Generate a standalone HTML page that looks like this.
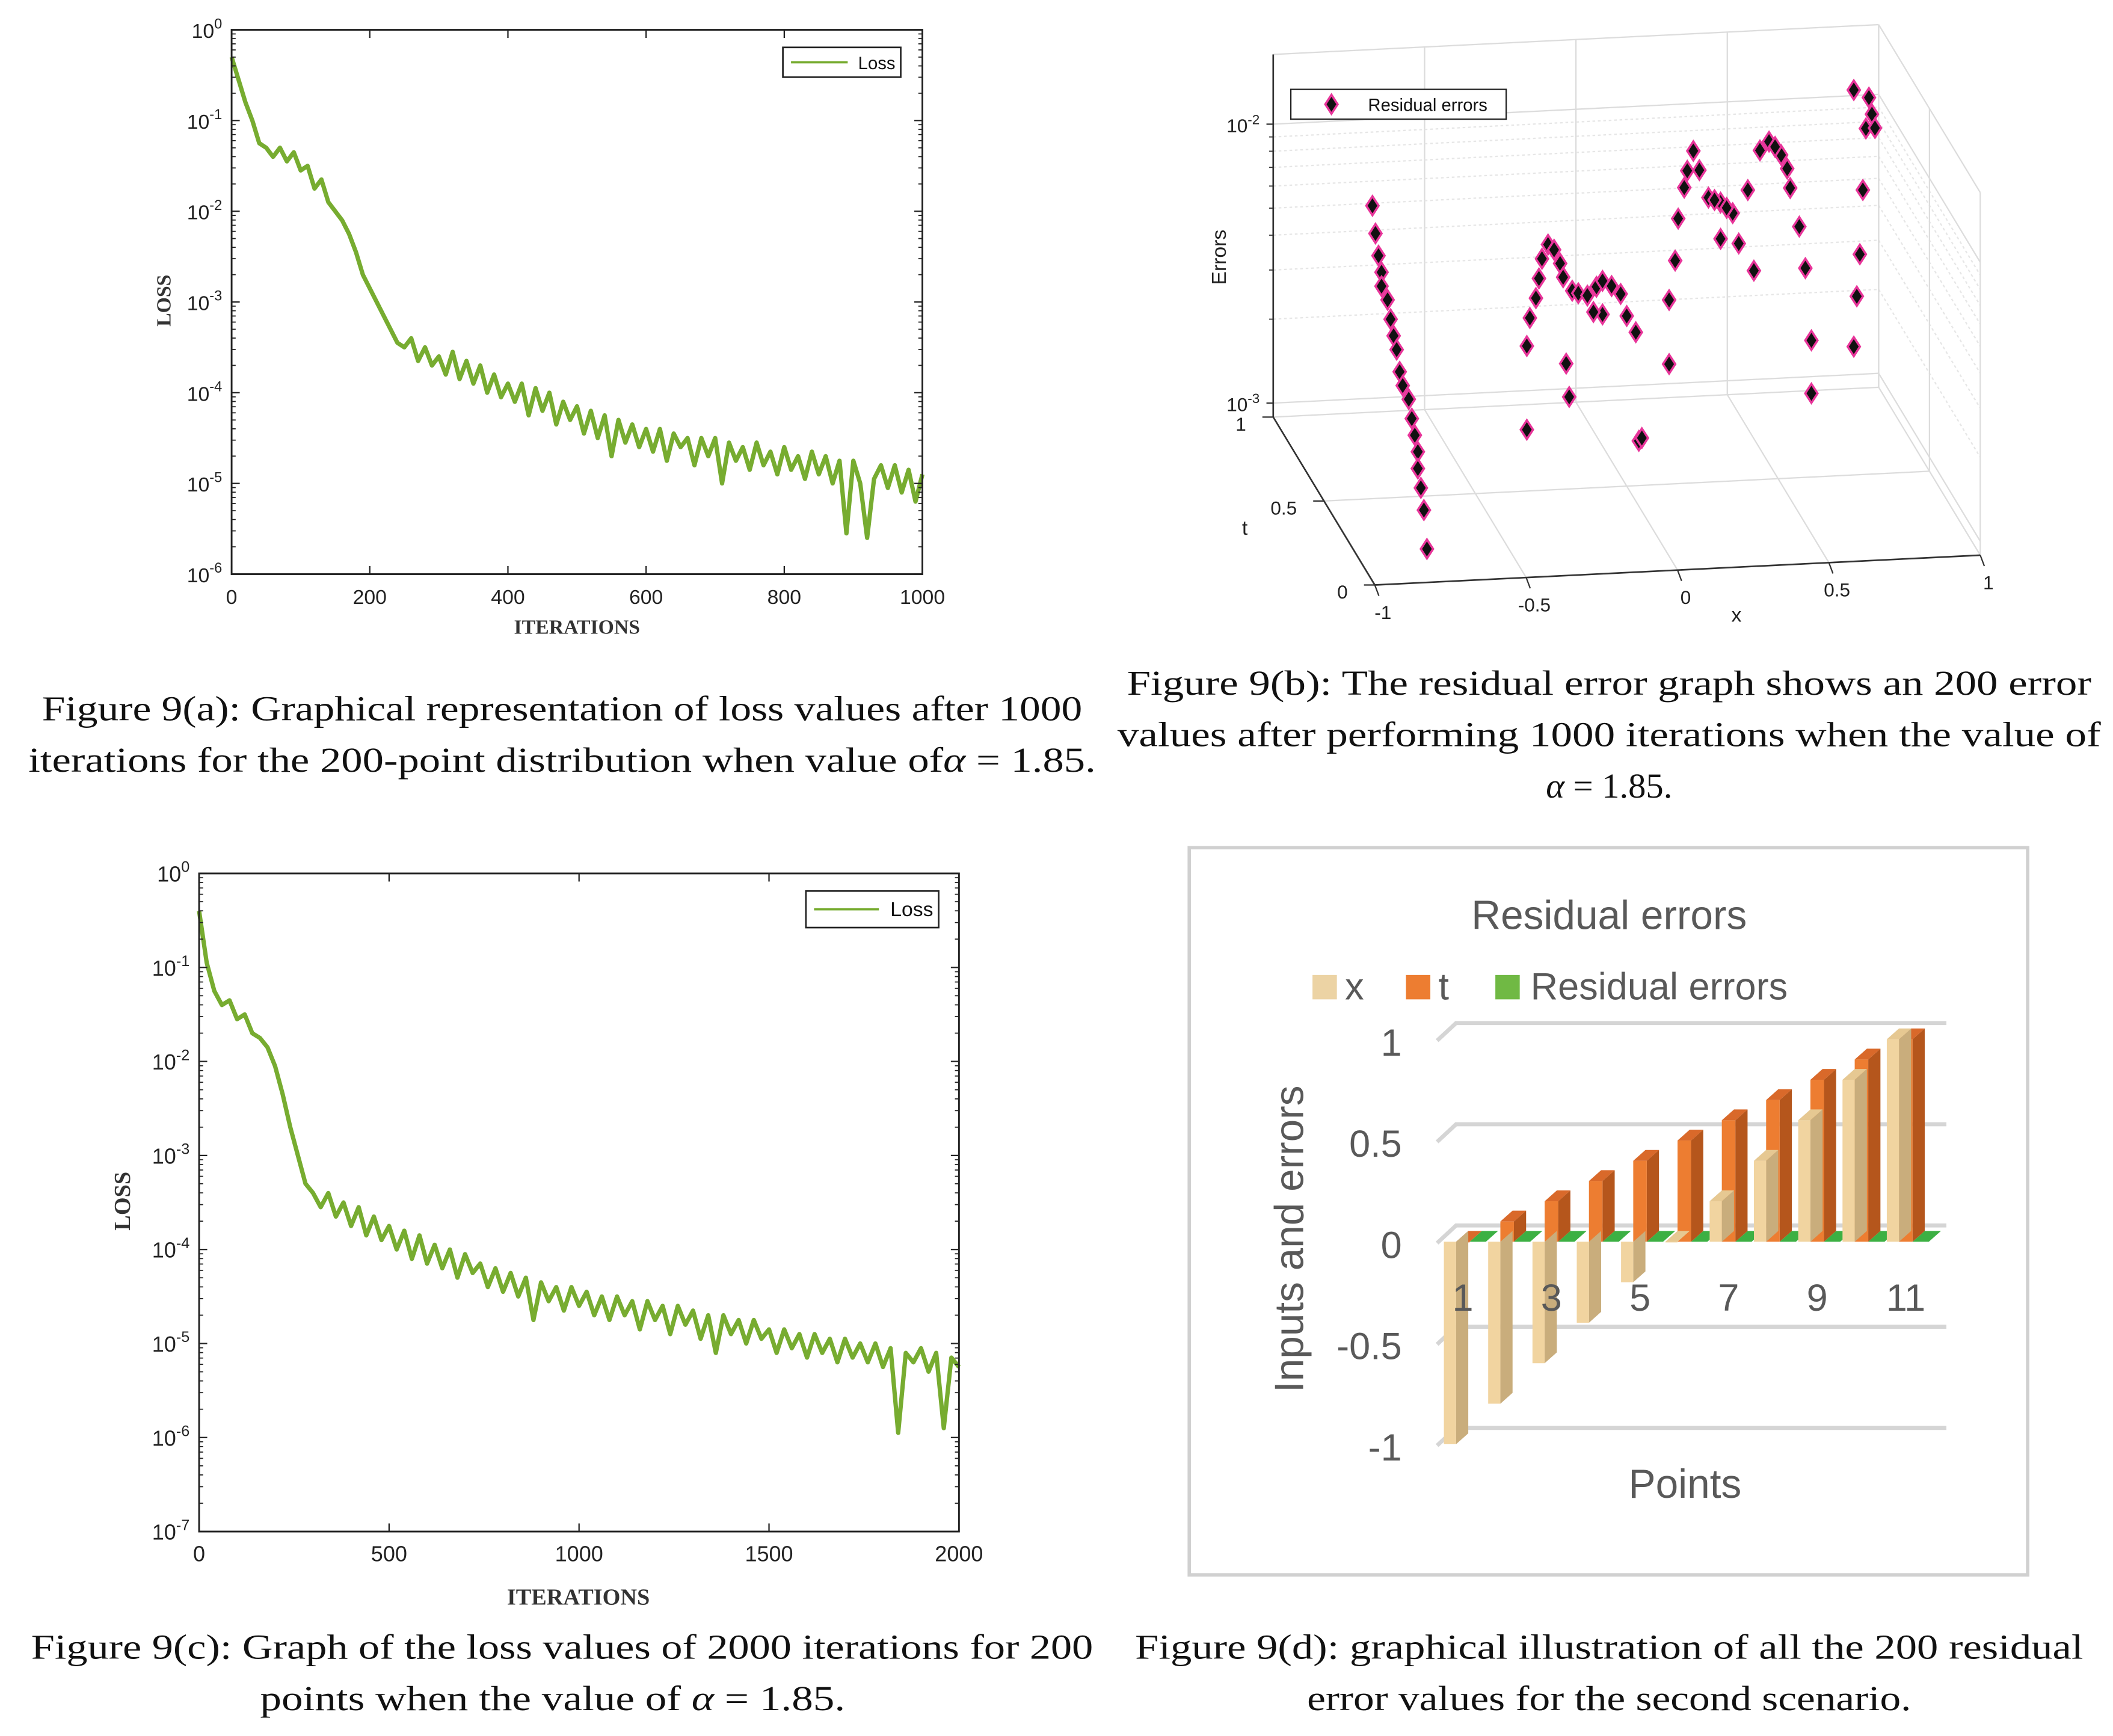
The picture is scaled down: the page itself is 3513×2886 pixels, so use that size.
<!DOCTYPE html>
<html><head><meta charset="utf-8"><title>Figure 9</title>
<style>
html,body{margin:0;padding:0;background:#fff;}
svg{display:block;}
.sans{font-family:"Liberation Sans",sans-serif;}
.serif{font-family:"Liberation Serif",serif;}
</style></head>
<body>
<svg id="root" width="3513" height="2886" viewBox="0 0 1560 1282" preserveAspectRatio="none" xmlns="http://www.w3.org/2000/svg">
<rect x="0" y="0" width="1560" height="1282" fill="#fff"/>
<g id="figA"></g>
<g id="figB"></g>
<g id="figC"></g>
<g id="figD"></g>

<g class="serif" font-size="26" fill="#111" text-anchor="middle">
<text x="415" y="532" textLength="768" lengthAdjust="spacingAndGlyphs">Figure 9(a): Graphical representation of loss values after  1000</text>
<text x="415" y="570" textLength="788" lengthAdjust="spacingAndGlyphs">iterations for the  200-point distribution when value of<tspan font-style="italic">α</tspan> = 1.85.</text>
</g>
<g class="serif" font-size="26" fill="#111" text-anchor="middle">
<text x="1188" y="513" textLength="712" lengthAdjust="spacingAndGlyphs">Figure 9(b): The residual error graph shows an  200  error</text>
<text x="1188" y="551" textLength="726" lengthAdjust="spacingAndGlyphs">values after performing  1000  iterations when the value of</text>
<text x="1188" y="589"><tspan font-style="italic">α</tspan> = 1.85.</text>
</g>
<g class="serif" font-size="26" fill="#111" text-anchor="middle">
<text x="415" y="1225" textLength="784" lengthAdjust="spacingAndGlyphs">Figure 9(c): Graph of the loss values of  2000  iterations for  200</text>
<text x="408" y="1263" textLength="432" lengthAdjust="spacingAndGlyphs">points when the value of  <tspan font-style="italic">α</tspan> = 1.85.</text>
</g>
<g class="serif" font-size="26" fill="#111" text-anchor="middle">
<text x="1188" y="1225" textLength="700" lengthAdjust="spacingAndGlyphs">Figure 9(d): graphical illustration of all the  200  residual</text>
<text x="1188" y="1263" textLength="446" lengthAdjust="spacingAndGlyphs">error values for the second scenario.</text>
</g>
</svg>
<script>
var NS='http://www.w3.org/2000/svg';
// ---------- data ----------
var lossA_iter_step = 10;
var lossA = [-0.3,-0.55,-0.8,-1.0,-1.25,-1.3,-1.4,-1.3,-1.45,-1.35,-1.55,-1.5,-1.75,-1.65,-1.9,-2.0,-2.1,-2.25,-2.45,-2.7,-2.85,-3.0,-3.15,-3.3,-3.45,-3.5,-3.4,-3.65,-3.5,-3.7,-3.6,-3.8,-3.55,-3.85,-3.65,-3.9,-3.7,-4.0,-3.8,-4.05,-3.9,-4.1,-3.9,-4.25,-3.95,-4.2,-4.0,-4.35,-4.1,-4.3,-4.15,-4.45,-4.2,-4.5,-4.25,-4.7,-4.3,-4.55,-4.35,-4.6,-4.4,-4.65,-4.4,-4.75,-4.45,-4.6,-4.5,-4.8,-4.5,-4.7,-4.5,-5.0,-4.55,-4.75,-4.6,-4.85,-4.55,-4.8,-4.65,-4.9,-4.6,-4.85,-4.7,-4.95,-4.65,-4.9,-4.7,-5.0,-4.75,-5.55,-4.75,-5.0,-5.6,-4.95,-4.8,-5.05,-4.8,-5.1,-4.85,-5.2,-4.9];
var lossA_xticks = [0,200,400,600,800,1000];
var lossA_yexp = [0,-1,-2,-3,-4,-5,-6];

var lossC_iter_step = 20;
var lossC = [-0.4,-0.95,-1.25,-1.4,-1.35,-1.55,-1.5,-1.7,-1.75,-1.85,-2.05,-2.35,-2.7,-3.0,-3.3,-3.4,-3.55,-3.4,-3.65,-3.5,-3.75,-3.55,-3.85,-3.65,-3.9,-3.75,-4.0,-3.8,-4.1,-3.85,-4.15,-3.95,-4.2,-4.0,-4.3,-4.05,-4.25,-4.15,-4.4,-4.2,-4.45,-4.25,-4.5,-4.3,-4.75,-4.35,-4.55,-4.4,-4.65,-4.4,-4.6,-4.45,-4.7,-4.5,-4.75,-4.5,-4.7,-4.55,-4.85,-4.55,-4.75,-4.6,-4.9,-4.6,-4.8,-4.65,-4.95,-4.7,-5.1,-4.7,-4.9,-4.75,-5.0,-4.75,-4.95,-4.85,-5.1,-4.85,-5.05,-4.9,-5.15,-4.9,-5.1,-4.95,-5.2,-4.95,-5.15,-5.0,-5.2,-5.0,-5.25,-5.05,-5.95,-5.1,-5.2,-5.05,-5.3,-5.1,-5.9,-5.15,-5.25];
var lossC_xticks = [0,500,1000,1500,2000];
var lossC_yexp = [0,-1,-2,-3,-4,-5,-6,-7];

// 3D residuals: x position and log10(error)
var resX = [-0.84,-0.83,-0.82,-0.81,-0.81,-0.79,-0.78,-0.77,-0.76,-0.75,-0.74,-0.72,-0.71,-0.70,-0.69,-0.69,-0.68,-0.67,-0.66,
 -0.33,-0.32,-0.30,-0.29,-0.28,-0.26,-0.24,-0.22,-0.21,-0.18,-0.16,-0.13,-0.10,-0.08,-0.05,-0.02,0.00,0.03,-0.33,-0.19,-0.20,0.04,-0.08,-0.11,
 0.14,0.17,0.20,0.22,0.24,0.27,0.31,0.35,0.40,0.44,0.47,0.51,0.54,0.57,0.59,0.61,0.14,0.42,0.31,0.37,0.61,0.05,0.16,0.19,0.29,0.33,0.49,0.53,
 0.80,0.81,0.79,0.82,0.78,0.77,0.76,0.75,0.75];
var resLogErr = [-2.0,-2.10,-2.18,-2.24,-2.29,-2.34,-2.41,-2.47,-2.52,-2.60,-2.65,-2.70,-2.77,-2.83,-2.89,-2.95,-3.02,-3.10,-3.24,
 -2.53,-2.43,-2.36,-2.29,-2.22,-2.17,-2.19,-2.24,-2.29,-2.34,-2.35,-2.36,-2.33,-2.31,-2.33,-2.36,-2.44,-2.50,-2.83,-2.72,-2.60,-2.89,-2.43,-2.42,
 -2.39,-2.10,-1.93,-1.86,-1.93,-2.03,-2.05,-2.09,-2.01,-1.87,-1.84,-1.89,-2.01,-2.15,-2.30,-2.56,-2.62,-2.30,-2.18,-2.20,-2.75,-2.88,-2.25,-1.99,-2.04,-2.07,-1.86,-1.94,
 -1.70,-1.76,-1.81,-1.81,-2.03,-2.26,-2.41,-2.59,-1.67];

// bar chart
var barCategories = [1,2,3,4,5,6,7,8,9,10,11];
var barX = [-1,-0.8,-0.6,-0.4,-0.2,0,0.2,0.4,0.6,0.8,1];
var barT = [0,0.1,0.2,0.3,0.4,0.5,0.6,0.7,0.8,0.9,1];
var barRes = [0.004,0.004,0.004,0.004,0.004,0.004,0.004,0.004,0.004,0.004,0.004];
var barYTicks = [1,0.5,0,-0.5,-1];
var barYTickLabels = ['1','0.5','0','-0.5','-1'];
var barCatLabels = ['1','3','5','7','9','11'];

function el(tag,attrs,parent){var e=document.createElementNS(NS,tag);for(var k in attrs)e.setAttribute(k,attrs[k]);if(parent)parent.appendChild(e);return e;}

// ---------- loss charts ----------
function lossChart(g,box,xmax,xticks,yexp,data,step,legend,fs){
  var ymin=yexp[yexp.length-1];
  function sx(v){return box.x0+(box.x1-box.x0)*v/xmax;}
  function sy(v){return box.y0+(box.y1-box.y0)*(v/ymin);}
  var pts=[];
  for(var i=0;i<data.length;i++){pts.push(sx(i*step).toFixed(2)+','+sy(data[i]).toFixed(2));}
  var line=el('polyline',{points:pts.join(' '),fill:'none',stroke:'#77ac30','stroke-width':3.2,'stroke-linejoin':'round'},g);
  
  
  var frame=el('rect',{x:box.x0,y:box.y0,width:box.x1-box.x0,height:box.y1-box.y0,fill:'none',stroke:'#222','stroke-width':1.3},g);
  
  
  var tl=6;
  for(var j=0;j<xticks.length;j++){
    var x=sx(xticks[j]);
    el('line',{x1:x,y1:box.y1,x2:x,y2:box.y1-tl,stroke:'#222','stroke-width':1},g);
    el('line',{x1:x,y1:box.y0,x2:x,y2:box.y0+tl,stroke:'#222','stroke-width':1},g);
    var t=el('text',{x:x,y:box.y1+22,'text-anchor':'middle','font-size':fs,fill:'#222','class':'sans'},g);
    t.textContent=xticks[j];
    
    
  }
  for(var k=0;k<yexp.length;k++){
    var y=sy(yexp[k]);
    el('line',{x1:box.x0,y1:y,x2:box.x0+tl,y2:y,stroke:'#222','stroke-width':1},g);
    el('line',{x1:box.x1,y1:y,x2:box.x1-tl,y2:y,stroke:'#222','stroke-width':1},g);
    var t2=el('text',{x:box.x0-7,y:y+6,'text-anchor':'end','font-size':fs,fill:'#222','class':'sans'},g);
    
    
    var b=el('tspan',{},t2);b.textContent='10';
    var s=el('tspan',{dy:-7,'font-size':fs*0.7},t2);s.textContent=yexp[k];
    if(k<yexp.length-1){
      for(var m=2;m<10;m++){
        var ym=sy(yexp[k]-1+Math.log10(m));
        el('line',{x1:box.x0,y1:ym,x2:box.x0+3,y2:ym,stroke:'#222','stroke-width':0.8},g);
        el('line',{x1:box.x1,y1:ym,x2:box.x1-3,y2:ym,stroke:'#222','stroke-width':0.8},g);
      }
    }
  }
  var lg=el('g',{},g);
  
  
  el('rect',{x:legend.x,y:legend.y,width:legend.w,height:legend.h,fill:'#fff',stroke:'#222','stroke-width':1.2},lg);
  el('line',{x1:legend.x+6,y1:legend.y+legend.h/2,x2:legend.x+legend.w*0.55,y2:legend.y+legend.h/2,stroke:'#77ac30','stroke-width':1.6},lg);
  var lt=el('text',{x:legend.x+legend.w-4,y:legend.y+legend.h/2+5,'text-anchor':'end','font-size':legend.fs,fill:'#111','class':'sans'},lg);
  lt.textContent='Loss';
}
var gA=document.getElementById('figA');
lossChart(gA,{x0:171,x1:681,y0:22,y1:424},1000,lossA_xticks,lossA_yexp,lossA,lossA_iter_step,{x:578,y:35,w:87,h:22,fs:13},15);
var ya=el('text',{x:0,y:0,transform:'translate(126,222) rotate(-90)','text-anchor':'middle','font-size':15,'font-weight':'bold',fill:'#333','class':'serif'},gA);
ya.textContent='LOSS';


var xa=el('text',{x:426,y:468,'text-anchor':'middle','font-size':15,'font-weight':'bold',fill:'#333','class':'serif'},gA);
xa.textContent='ITERATIONS';



var gC=document.getElementById('figC');
lossChart(gC,{x0:147,x1:708,y0:645,y1:1131},2000,lossC_xticks,lossC_yexp,lossC,lossC_iter_step,{x:595,y:658,w:98,h:27,fs:15},16);
var yc=el('text',{x:0,y:0,transform:'translate(96,887) rotate(-90)','text-anchor':'middle','font-size':17,'font-weight':'bold',fill:'#333','class':'serif'},gC);
yc.textContent='LOSS';


var xc=el('text',{x:427,y:1185,'text-anchor':'middle','font-size':17,'font-weight':'bold',fill:'#333','class':'serif'},gC);
xc.textContent='ITERATIONS';



// ---------- 3D residual chart ----------
var gB=document.getElementById('figB');
var ZMIN=-3.05, ZMAX=-1.75;
function P(x,t,le){return [1015+223.5*(x+1)-75*t, 432-11*(x+1)-124*t-206*(le-ZMIN)];}
function L(a,b,st,w,dash){var o={x1:a[0],y1:a[1],x2:b[0],y2:b[1],stroke:st,'stroke-width':w};if(dash)o['stroke-dasharray']=dash;return el('line',o,gB);}
var gridC='#dcdcdc';
var xs=[-1,-0.5,0,0.5,1], ts=[0,0.5,1];
for(var i=0;i<xs.length;i++)L(P(xs[i],0,ZMIN),P(xs[i],1,ZMIN),gridC,1);
for(i=0;i<ts.length;i++)L(P(-1,ts[i],ZMIN),P(1,ts[i],ZMIN),gridC,1);
for(i=0;i<xs.length;i++)L(P(xs[i],1,ZMIN),P(xs[i],1,ZMAX),gridC,1);
var zl=[-3,-2];
for(i=0;i<zl.length;i++){L(P(-1,1,zl[i]),P(1,1,zl[i]),gridC,1);L(P(1,1,zl[i]),P(1,0,zl[i]),gridC,1);}
for(var m=2;m<10;m++){var z=-3+Math.log10(m);L(P(-1,1,z),P(1,1,z),'#e6e6e6',1,'2,2');L(P(1,1,z),P(1,0,z),'#e6e6e6',1,'2,2');}
L(P(-1,1,ZMAX),P(1,1,ZMAX),gridC,1);
for(i=0;i<ts.length;i++)L(P(1,ts[i],ZMIN),P(1,ts[i],ZMAX),gridC,1);
L(P(1,0,ZMAX),P(1,1,ZMAX),gridC,1);
var ax1=L(P(-1,1,ZMIN),P(-1,1,ZMAX),'#333',1.2);


var ax2=L(P(-1,1,ZMIN),P(-1,0,ZMIN),'#333',1.2);


var ax3=L(P(-1,0,ZMIN),P(1,0,ZMIN),'#333',1.2);


for(i=0;i<xs.length;i++){var a=P(xs[i],0,ZMIN);L(a,[a[0]+3,a[1]+8],'#333',1);
  var tx=el('text',{x:a[0]+6,y:a[1]+25,'text-anchor':'middle','font-size':14,fill:'#222','class':'sans'},gB);tx.textContent=xs[i];
  
  }
for(i=0;i<ts.length;i++){var b2=P(-1,ts[i],ZMIN);L(b2,[b2[0]-8,b2[1]],'#333',1);
  var tt=el('text',{x:b2[0]-20,y:b2[1]+10,'text-anchor':'end','font-size':14,fill:'#222','class':'sans'},gB);tt.textContent=ts[i];
  
  }
for(i=0;i<zl.length;i++){var c=P(-1,1,zl[i]);L(c,[c[0]-5,c[1]],'#333',1);
  var tz=el('text',{x:c[0]-10,y:c[1]+6,'text-anchor':'end','font-size':14,fill:'#222','class':'sans'},gB);
  
  
  var t1=el('tspan',{},tz);t1.textContent='10';var t2s=el('tspan',{dy:-6,'font-size':10},tz);t2s.textContent=zl[i];}
for(m=2;m<10;m++){var c2=P(-1,1,-3+Math.log10(m));L(c2,[c2[0]-3,c2[1]],'#333',0.8);}
var lx=el('text',{x:1282,y:459,'text-anchor':'middle','font-size':15,fill:'#222','class':'sans'},gB);lx.textContent='x';


var lt3=el('text',{x:919,y:395,'text-anchor':'middle','font-size':15,fill:'#222','class':'sans'},gB);lt3.textContent='t';


var le3=el('text',{x:0,y:0,transform:'translate(905,190) rotate(-90)','text-anchor':'middle','font-size':15,fill:'#222','class':'sans'},gB);le3.textContent='Errors';


function diamond(cx,cy,r,parent){return el('polygon',{points:cx+','+(cy-r)+' '+(cx+r*0.65)+','+cy+' '+cx+','+(cy+r)+' '+(cx-r*0.65)+','+cy,fill:'#111',stroke:'#e8359a','stroke-width':1.6},parent);}
for(i=0;i<resX.length;i++){
  var p=P(resX[i],0.5,resLogErr[i]);
  var d=diamond(p[0],p[1],7,gB);
  
  
}
var lgB=el('g',{},gB);


el('rect',{x:953,y:66,width:159,height:22,fill:'#fff',stroke:'#222','stroke-width':1},lgB);
diamond(983,77,7,lgB);
var lbt=el('text',{x:1010,y:82,'font-size':13,fill:'#111','class':'sans'},lgB);lbt.textContent='Residual errors';

// ---------- bar chart ----------
var gD=document.getElementById('figD');
var fr=el('rect',{x:878,y:626,width:619,height:537,fill:'#fff',stroke:'#d0d0d0','stroke-width':2.5},gD);


var ZERO=917, UNIT=149.5, DX=9, DY=8;
function by(v){return ZERO-UNIT*v;}
function bx(i){return 1066+32.7*i;}
for(i=0;i<barYTicks.length;i++){
  var yy=by(barYTicks[i])-12;
  var gl=el('polyline',{points:'1061,'+(yy+13)+' 1075,'+yy+' 1437,'+yy,fill:'none',stroke:'#d5d5d5','stroke-width':3},gD);
  
  
  var yl=el('text',{x:1035,y:by(barYTicks[i])+12,'text-anchor':'end','font-size':28,fill:'#595959','class':'sans'},gD);
  yl.textContent=barYTickLabels[i];
  
  
}
function bar3d(x0,w,v,front,side,top,name){
  var y0=ZERO,y1=by(v);
  var g=el('g',{},gD);
  
  
  var yt=Math.min(y0,y1),yb=Math.max(y0,y1);
  el('polygon',{points:(x0+w)+','+yt+' '+(x0+w+DX)+','+(yt-DY)+' '+(x0+w+DX)+','+(yb-DY)+' '+(x0+w)+','+yb,fill:side},g);
  el('rect',{x:x0,y:yt,width:w,height:Math.max(yb-yt,0.5),fill:front},g);
  if(v>=0)el('polygon',{points:x0+','+yt+' '+(x0+DX)+','+(yt-DY)+' '+(x0+w+DX)+','+(yt-DY)+' '+(x0+w)+','+yt,fill:top},g);
  return g;
}
for(i=0;i<barCategories.length;i++){
  var x0=bx(i);
  var gr=el('polygon',{points:(x0+19)+','+ZERO+' '+(x0+19+DX)+','+(ZERO-DY)+' '+(x0+31+DX)+','+(ZERO-DY)+' '+(x0+31)+','+ZERO,fill:'#3cb043'},gD);
  
  
  bar3d(x0+9,10,barT[i],'#ed7d31','#b5561c','#d9692a','t-bar');
  bar3d(x0,9,barX[i],'#f1d4a0','#c9ad7c','#e6c892','x-bar');
}
for(i=0;i<barCatLabels.length;i++){
  var cl=el('text',{x:bx(2*i)+14,y:968,'text-anchor':'middle','font-size':28,fill:'#595959','class':'sans'},gD);
  cl.textContent=barCatLabels[i];
  
  
}
var ttl=el('text',{x:1188,y:686,'text-anchor':'middle','font-size':30,fill:'#595959','class':'sans'},gD);ttl.textContent='Residual errors';


var xt=el('text',{x:1244,y:1106,'text-anchor':'middle','font-size':30,fill:'#595959','class':'sans'},gD);xt.textContent='Points';


var ytd=el('text',{x:0,y:0,transform:'translate(962,915) rotate(-90)','text-anchor':'middle','font-size':30,fill:'#595959','class':'sans'},gD);ytd.textContent='Inputs and errors';


var lgd=el('g',{},gD);


el('rect',{x:969,y:720,width:18,height:18,fill:'#ecd3a4'},lgd);
var l1=el('text',{x:993,y:738,'font-size':28,fill:'#595959','class':'sans'},lgd);l1.textContent='x';
el('rect',{x:1038,y:720,width:18,height:18,fill:'#ed7d31'},lgd);
var l2=el('text',{x:1062,y:738,'font-size':28,fill:'#595959','class':'sans'},lgd);l2.textContent='t';
el('rect',{x:1104,y:720,width:18,height:18,fill:'#70b944'},lgd);
var l3=el('text',{x:1130,y:738,'font-size':28,fill:'#595959','class':'sans'},lgd);l3.textContent='Residual errors';
</script>
</body></html>
